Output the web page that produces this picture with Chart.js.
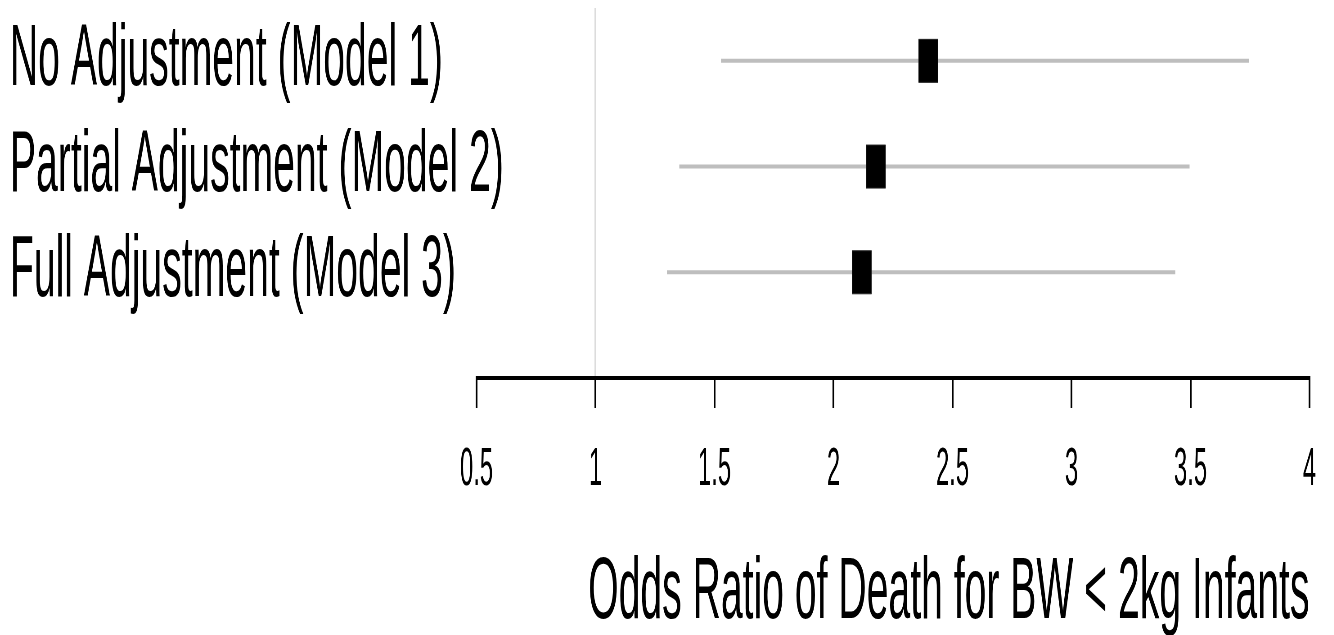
<!DOCTYPE html>
<html>
<head>
<meta charset="utf-8">
<script src="https://cdn.jsdelivr.net/npm/chart.js@4"></script>
<style>
  html, body { margin: 0; padding: 0; background: #fff; overflow: hidden; }
  /* the reference text is tall and narrow, so draw wide and squeeze */
  #wrap { width: 2964px; height: 635px; transform: scaleX(0.45); transform-origin: 0 0; }
</style>
</head>
<body>
<div id="wrap"><canvas id="forestChart" width="2964" height="635"></canvas></div>
<script>
const models = ['No Adjustment (Model 1)', 'Partial Adjustment (Model 2)', 'Full Adjustment (Model 3)'];
const oddsRatio = [2.398, 2.178, 2.119];
const ciLower = [1.527, 1.352, 1.300];
const ciUpper = [3.745, 3.496, 3.436];
const xTicks = [0.5, 1, 1.5, 2, 2.5, 3, 3.5, 4];
const xTitle = 'Odds Ratio of Death for BW < 2kg Infants';

const fontFamily = "'Liberation Sans', Arial, sans-serif";

const ciSets = models.map((m, i) => ({
    label: m,
    data: [{ x: ciLower[i], y: i + 1 }, { x: ciUpper[i], y: i + 1 }],
    showLine: true,
    borderColor: '#bebebe',
    borderWidth: 4,
    pointRadius: 0
}));

const ctx = document.getElementById('forestChart').getContext('2d');
const forestChart = new Chart(ctx, {
    type: 'scatter',
    data: {
        datasets: [{
            label: 'Odds ratio',
            data: oddsRatio.map((v, i) => ({ x: v, y: i + 1 })),
            pointStyle: 'rect',
            pointRadius: 30.4,
            backgroundColor: '#000',
            borderColor: '#222',
            borderWidth: 1
        }].concat(ciSets)
    },
    options: {
        responsive: false,
        animation: false,
        events: [],
        layout: { autoPadding: false, padding: { top: 8, left: 22, right: 54, bottom: 0 } },
        scales: {
            x: {
                type: 'linear',
                min: 0.5,
                max: 4,
                afterBuildTicks: (scale) => { scale.ticks = xTicks.map(v => ({ value: v })); },
                afterFit: (scale) => {
                    scale.height = 257;
                    scale.paddingLeft = 0;
                    scale.paddingRight = 0;
                },
                grid: {
                    color: (c) => (c.tick && c.tick.value === 1 ? '#dcdcdc' : 'rgba(0,0,0,0)'),
                    lineWidth: 4,
                    tickColor: '#000',
                    tickWidth: 4,
                    tickLength: 30
                },
                border: { display: true, color: '#000', width: 4 },
                ticks: {
                    color: '#000',
                    padding: 36,
                    maxRotation: 0,
                    autoSkip: false,
                    font: { family: fontFamily, size: 53, lineHeight: 1 },
                    callback: (v) => String(v)
                },
                title: {
                    display: true,
                    text: xTitle,
                    align: 'end',
                    color: '#000',
                    padding: { top: 0, bottom: -3 },
                    font: { family: fontFamily, size: 87, lineHeight: 1 }
                }
            },
            y: {
                type: 'linear',
                reverse: true,
                min: 0.5,
                max: 4,
                afterBuildTicks: (scale) => { scale.ticks = models.map((m, i) => ({ value: i + 1 })); },
                afterFit: (scale) => {
                    scale.width = 1037;
                    scale.paddingTop = 0;
                    scale.paddingBottom = 0;
                },
                grid: { display: false, drawTicks: false },
                border: { display: false },
                ticks: {
                    color: '#000',
                    mirror: true,
                    crossAlign: 'near',
                    padding: -1037,
                    autoSkip: false,
                    font: { family: fontFamily, size: 87, lineHeight: 1 },
                    callback: (v) => models[v - 1]
                }
            }
        },
        plugins: {
            legend: { display: false },
            tooltip: { enabled: false }
        }
    }
});
</script>
</body>
</html>
